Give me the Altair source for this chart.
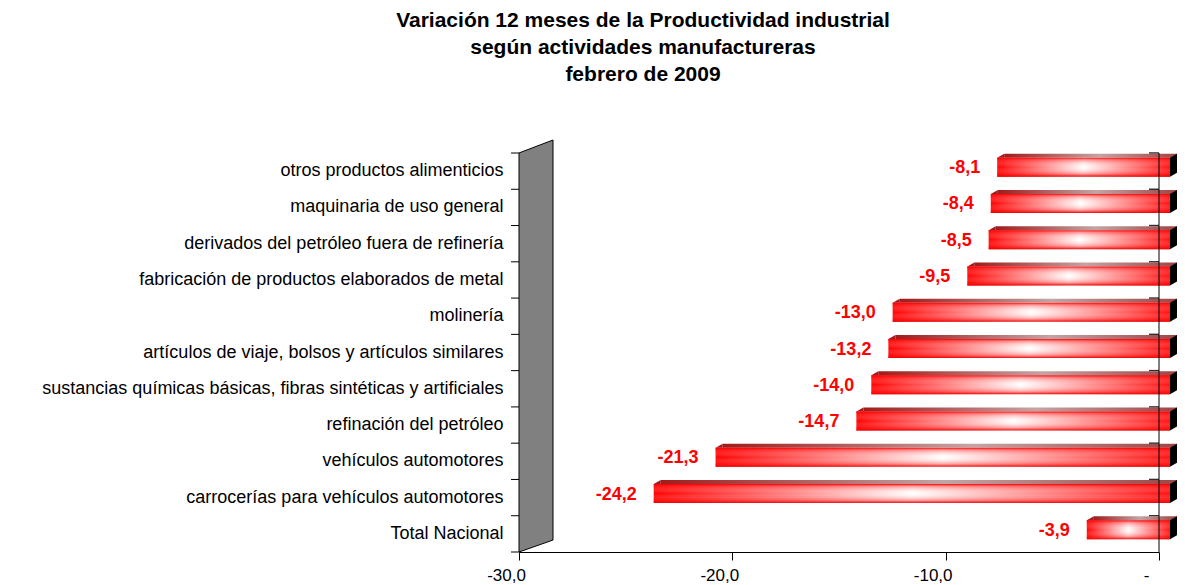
import altair as alt
import pandas as pd

categories = [
    "otros productos alimenticios",
    "maquinaria de uso general",
    "derivados del petróleo fuera de refinería",
    "fabricación de productos elaborados de metal",
    "molinería",
    "artículos de viaje, bolsos y artículos similares",
    "sustancias químicas básicas, fibras sintéticas y artificiales",
    "refinación del petróleo",
    "vehículos automotores",
    "carrocerías para vehículos automotores",
    "Total Nacional",
]
values = [-8.1, -8.4, -8.5, -9.5, -13.0, -13.2, -14.0, -14.7, -21.3, -24.2, -3.9]
x_ticks = [-30, -20, -10, 0]

df = pd.DataFrame({"cat": categories, "v": values})

W, H = 640, 399
FONT = "Liberation Sans"

xs = alt.Scale(domain=[-30, 0], nice=False, zero=False)
ys = alt.Scale(domain=categories, paddingInner=0, paddingOuter=0)

x_axis = alt.Axis(values=x_ticks, title=None, grid=False,
                  labelExpr="datum.value == 0 ? '-' : replace(replace(format(datum.value, '.1f'), '.', ','), '\u2212', '-')",
                  labelFontSize=17, labelFont=FONT, labelColor="black",
                  tickColor="black", tickSize=8, labelPadding=7, labelOffset=-13,
                  domainColor="black", labelFlush=False)
y_axis = alt.Axis(title=None, ticks=False, labelFontSize=18, labelFont=FONT,
                  labelColor="black", labelPadding=16, domainColor="black",
                  labelLimit=600, grid=False)


def XQ(field):
    return alt.X(field, type="quantitative", scale=xs, axis=x_axis)


def YC(band=None):
    if band is None:
        return alt.Y("cat:N", scale=ys, sort=categories, axis=y_axis)
    return alt.Y("cat:N", scale=ys, sort=categories, axis=y_axis, bandPosition=band)


base = alt.Chart(df).transform_calculate(z="0", xw="-30")

# back wall (decorative 3D wall)
wall = base.transform_filter(alt.datum.cat == categories[0]).mark_point(
    shape="M -0.0825 -0.937 L 0.0825 -1 L 0.0825 0.942 L -0.0825 1 Z",
    size=412 * 412, filled=True, fill="#808080", stroke="black", strokeWidth=1,
    opacity=1, xOffset=17,
).encode(x=XQ("xw"), y=alt.value(H / 2 - 6.5))

# y ticks at band boundaries
yt_top = base.mark_rule(color="black").encode(
    y=YC(0), x=alt.value(-8), x2=alt.value(0))
yt_bot = base.transform_filter(alt.datum.cat == categories[-1]).mark_rule(color="black").encode(
    y=YC(1), x=alt.value(-8), x2=alt.value(0))

# back grid stubs near zero
stubs = base.mark_rule(color="#303030", strokeWidth=1.5, xOffset=-10).encode(
    y=YC(0), x=XQ("z"), x2="z:Q")

# top face
top_grad = {"gradient": "linear", "x1": 0, "y1": 0, "x2": 1, "y2": 0,
            "stops": [{"offset": 0, "color": "#a01c1c"},
                      {"offset": 0.55, "color": "#c4a4a4"},
                      {"offset": 1, "color": "#a04444"}]}
top = base.mark_bar(fill=top_grad, size=4, xOffset=18, x2Offset=18, yOffset=-15.5).encode(
    x=XQ("v"), x2=alt.X2("z:Q"), y=YC())

top_tri = base.mark_point(
    shape="M -1 0.571 L 1 -0.571 L 1 0.571 Z", size=49, filled=True, fill="#a01c1c",
    opacity=1, strokeWidth=0, xOffset=14.5, yOffset=-15.5,
).encode(x=XQ("v"), y=YC())

# front face
front_grad = {"gradient": "linear", "x1": 0, "y1": 0, "x2": 1, "y2": 0,
              "stops": [{"offset": 0, "color": "#ff0000"},
                        {"offset": 0.18, "color": "#ff5a5a"},
                        {"offset": 0.5, "color": "#ffffff"},
                        {"offset": 0.82, "color": "#ff6a6a"},
                        {"offset": 1, "color": "#ff1010"}]}
front = base.mark_bar(fill=front_grad, size=19, xOffset=11, x2Offset=11, yOffset=-4).encode(
    x=XQ("v"), x2=alt.X2("z:Q"), y=YC())

vshade = {"gradient": "linear", "x1": 0, "y1": 0, "x2": 0, "y2": 1,
          "stops": [{"offset": 0, "color": "rgba(235,0,0,0.95)"},
                    {"offset": 0.12, "color": "rgba(255,40,40,0.45)"},
                    {"offset": 0.5, "color": "rgba(255,255,255,0)"},
                    {"offset": 0.85, "color": "rgba(255,30,30,0.4)"},
                    {"offset": 1, "color": "rgba(230,0,0,0.95)"}]}
front2 = base.mark_bar(fill=vshade, size=19, xOffset=11, x2Offset=11, yOffset=-4).encode(
    x=XQ("v"), x2=alt.X2("z:Q"), y=YC())

# side face
side = base.mark_point(
    shape="M -0.2917 -0.625 L 0.2917 -0.958 L 0.2917 0.625 L -0.2917 0.958 Z",
    size=576, filled=True, fill="black", opacity=1, strokeWidth=0,
    xOffset=14.5, yOffset=-6,
).encode(x=XQ("z"), y=YC())

zero = base.transform_filter(alt.datum.cat == categories[0]).mark_rule(color="black").encode(
    x=XQ("z"))

labels = base.mark_text(
    align="right", baseline="middle", dx=-6, dy=-3, color="#ff0000",
    font=FONT, fontSize=18, fontWeight="bold",
).encode(x=XQ("v"), y=YC(), text="lab:N").transform_calculate(
    lab="replace(replace(format(datum.v, '.1f'), '.', ','), '\u2212', '-')")

chart = alt.layer(
    wall, yt_top, yt_bot, stubs, top, top_tri, front, front2, side, zero, labels
).properties(
    width=W, height=H,
    autosize="none",
    padding={"left": 511, "top": 145, "right": 18, "bottom": 40},
    title=alt.TitleParams(
        text=["Variación 12 meses de la Productividad industrial",
              "según actividades manufactureras",
              "febrero de 2009"],
        font=FONT, fontSize=21, fontWeight="bold", color="black",
        lineHeight=27, anchor="middle", offset=53, dx=-196,
    ),
).configure_view(stroke=None)

chart.save("out.html", embed_options={"renderer": "svg", "actions": False})
